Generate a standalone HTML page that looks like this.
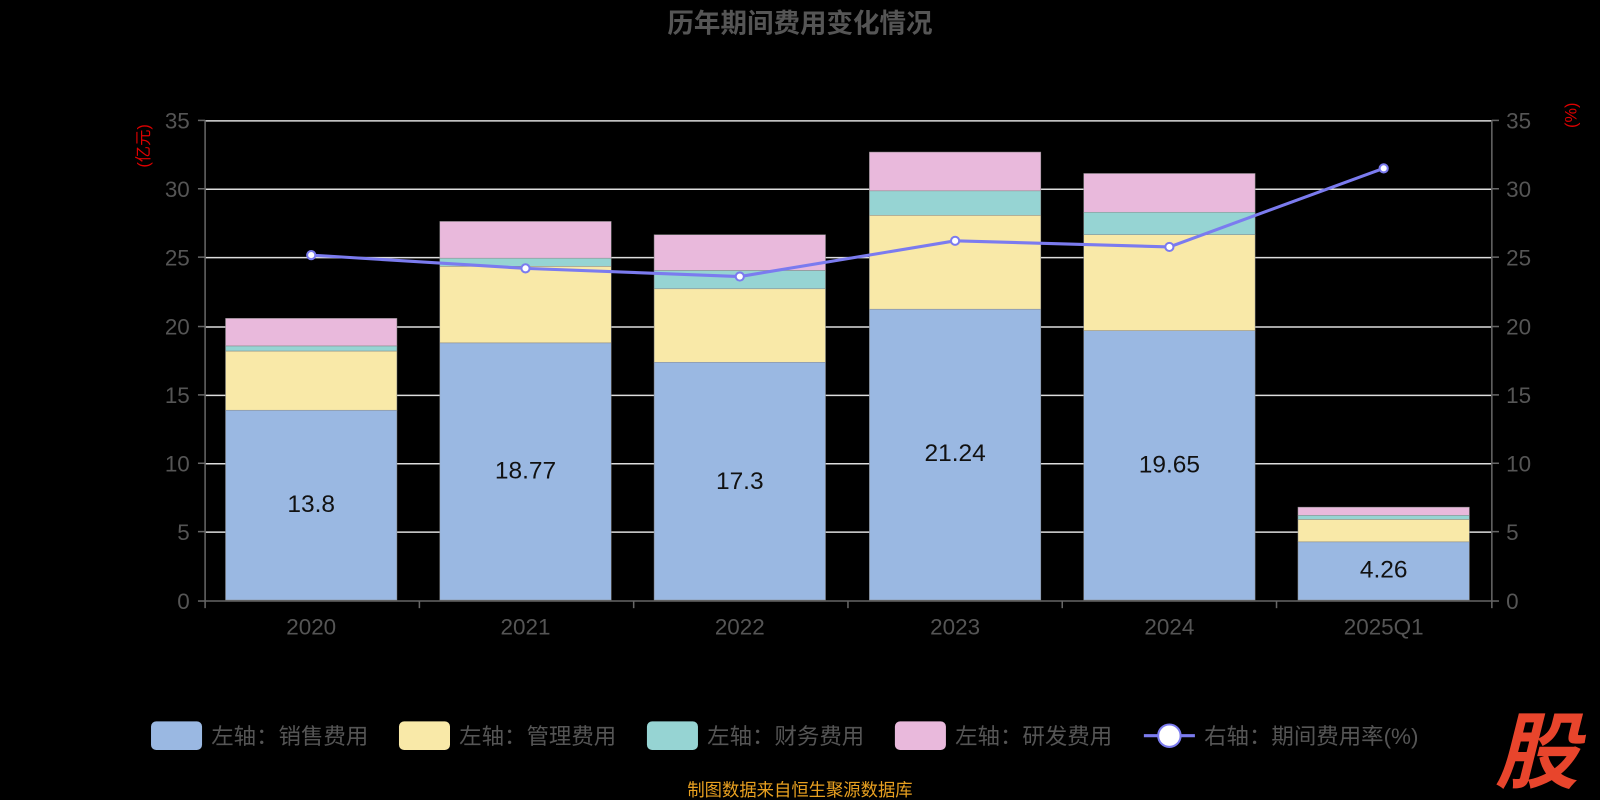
<!DOCTYPE html>
<html><head><meta charset="utf-8"><style>
body{margin:0;background:#000;}
svg{display:block;}
svg text{font-family:"Liberation Sans","Noto Sans CJK SC",sans-serif;}
</style></head><body>
<svg width="1600" height="800" viewBox="0 0 1568 784" preserveAspectRatio="none" xmlns="http://www.w3.org/2000/svg">
<rect width="1568" height="784" fill="#000"/>
<text x="784" y="32" text-anchor="middle" font-size="26" font-weight="bold" fill="#555">历年期间费用变化情况</text>
<g stroke="#ddd" stroke-width="1.5">
<line x1="201" x2="1462" y1="118.5" y2="118.5"/>
<line x1="201" x2="1462" y1="185.5" y2="185.5"/>
<line x1="201" x2="1462" y1="252.5" y2="252.5"/>
<line x1="201" x2="1462" y1="320.5" y2="320.5"/>
<line x1="201" x2="1462" y1="387.5" y2="387.5"/>
<line x1="201" x2="1462" y1="454.5" y2="454.5"/>
<line x1="201" x2="1462" y1="521.5" y2="521.5"/>
</g>
<g stroke="#666" stroke-width="1.5">
<line x1="201" x2="201" y1="118" y2="589"/>
<line x1="1462" x2="1462" y1="118" y2="589"/>
<line x1="201" x2="1462" y1="589" y2="589"/>
<line x1="194" x2="201" y1="118" y2="118"/><line x1="194" x2="201" y1="185" y2="185"/><line x1="194" x2="201" y1="252" y2="252"/><line x1="194" x2="201" y1="320" y2="320"/><line x1="194" x2="201" y1="387" y2="387"/><line x1="194" x2="201" y1="454" y2="454"/><line x1="194" x2="201" y1="521" y2="521"/><line x1="194" x2="201" y1="589" y2="589"/>
<line x1="1462" x2="1469" y1="118" y2="118"/><line x1="1462" x2="1469" y1="185" y2="185"/><line x1="1462" x2="1469" y1="252" y2="252"/><line x1="1462" x2="1469" y1="320" y2="320"/><line x1="1462" x2="1469" y1="387" y2="387"/><line x1="1462" x2="1469" y1="454" y2="454"/><line x1="1462" x2="1469" y1="521" y2="521"/><line x1="1462" x2="1469" y1="589" y2="589"/>
<line x1="201" x2="201" y1="589" y2="596"/><line x1="411" x2="411" y1="589" y2="596"/><line x1="621" x2="621" y1="589" y2="596"/><line x1="831" x2="831" y1="589" y2="596"/><line x1="1041" x2="1041" y1="589" y2="596"/><line x1="1251" x2="1251" y1="589" y2="596"/><line x1="1462" x2="1462" y1="589" y2="596"/>
</g>
<g font-size="22" fill="#555" text-anchor="end">
<text x="186" y="126">35</text><text x="186" y="193">30</text><text x="186" y="260">25</text><text x="186" y="328">20</text><text x="186" y="395">15</text><text x="186" y="462">10</text><text x="186" y="529">5</text><text x="186" y="597">0</text>
</g>
<g font-size="22" fill="#555" text-anchor="start">
<text x="1476" y="126">35</text><text x="1476" y="193">30</text><text x="1476" y="260">25</text><text x="1476" y="328">20</text><text x="1476" y="395">15</text><text x="1476" y="462">10</text><text x="1476" y="529">5</text><text x="1476" y="597">0</text>
</g>
<text transform="translate(146,143) rotate(-90)" text-anchor="middle" font-size="16" fill="#d00">(亿元)</text>
<text transform="translate(1545,113) rotate(-90)" text-anchor="middle" font-size="16" fill="#d00">(%)</text>
<g font-size="22" fill="#555" text-anchor="middle">
<text x="305" y="622">2020</text><text x="515" y="622">2021</text><text x="725" y="622">2022</text><text x="936" y="622">2023</text><text x="1146" y="622">2024</text><text x="1356" y="622">2025Q1</text>
</g>
<g stroke="#888" stroke-width="0.5">
<rect x="221" y="402" width="168" height="186" fill="#9ab8e2"/><rect x="221" y="344" width="168" height="58" fill="#f9e9a8"/><rect x="221" y="339" width="168" height="5" fill="#96d4d3"/><rect x="221" y="312" width="168" height="27" fill="#e9b9dc"/>
<rect x="431" y="336" width="168" height="252" fill="#9ab8e2"/><rect x="431" y="261" width="168" height="75" fill="#f9e9a8"/><rect x="431" y="253" width="168" height="8" fill="#96d4d3"/><rect x="431" y="217" width="168" height="36" fill="#e9b9dc"/>
<rect x="641" y="355" width="168" height="233" fill="#9ab8e2"/><rect x="641" y="283" width="168" height="72" fill="#f9e9a8"/><rect x="641" y="265" width="168" height="18" fill="#96d4d3"/><rect x="641" y="230" width="168" height="35" fill="#e9b9dc"/>
<rect x="852" y="303" width="168" height="285" fill="#9ab8e2"/><rect x="852" y="211" width="168" height="92" fill="#f9e9a8"/><rect x="852" y="187" width="168" height="24" fill="#96d4d3"/><rect x="852" y="149" width="168" height="38" fill="#e9b9dc"/>
<rect x="1062" y="324" width="168" height="264" fill="#9ab8e2"/><rect x="1062" y="230" width="168" height="94" fill="#f9e9a8"/><rect x="1062" y="208" width="168" height="22" fill="#96d4d3"/><rect x="1062" y="170" width="168" height="38" fill="#e9b9dc"/>
<rect x="1272" y="531" width="168" height="57" fill="#9ab8e2"/><rect x="1272" y="509" width="168" height="22" fill="#f9e9a8"/><rect x="1272" y="505" width="168" height="4" fill="#96d4d3"/><rect x="1272" y="497" width="168" height="8" fill="#e9b9dc"/>
</g>
<g font-size="24" fill="#111" text-anchor="middle">
<text x="305" y="502">13.8</text><text x="515" y="469">18.77</text><text x="725" y="479">17.3</text><text x="936" y="452">21.24</text><text x="1146" y="463">19.65</text><text x="1356" y="566">4.26</text>
</g>
<polyline points="305,250 515,263 725,271 936,236 1146,242 1356,165" fill="none" stroke="#7b7bef" stroke-width="3"/>
<g fill="#fff" stroke="#7b7bef" stroke-width="2">
<circle cx="305" cy="250" r="4"/><circle cx="515" cy="263" r="4"/><circle cx="725" cy="271" r="4"/><circle cx="936" cy="236" r="4"/><circle cx="1146" cy="242" r="4"/><circle cx="1356" cy="165" r="4"/>
</g>
<g font-size="22" fill="#555">
<rect x="148" y="707" width="50" height="28" rx="5" fill="#9ab8e2"/><text x="207" y="729">左轴：销售费用</text>
<rect x="391" y="707" width="50" height="28" rx="5" fill="#f9e9a8"/><text x="450" y="729">左轴：管理费用</text>
<rect x="634" y="707" width="50" height="28" rx="5" fill="#96d4d3"/><text x="693" y="729">左轴：财务费用</text>
<rect x="877" y="707" width="50" height="28" rx="5" fill="#e9b9dc"/><text x="936" y="729">左轴：研发费用</text>
<line x1="1121" x2="1171" y1="721" y2="721" stroke="#7b7bef" stroke-width="3"/><circle cx="1146" cy="721" r="11" fill="#fff" stroke="#7b7bef" stroke-width="2"/><text x="1180" y="729">右轴：期间费用率(%)</text>
</g>
<text x="784" y="780" text-anchor="middle" font-size="17" fill="#e8a020">制图数据来自恒生聚源数据库</text>
<text x="1506" y="766" text-anchor="middle" font-size="82" font-weight="bold" font-style="italic" fill="#e8452c">股</text>
</svg>
</body></html>
